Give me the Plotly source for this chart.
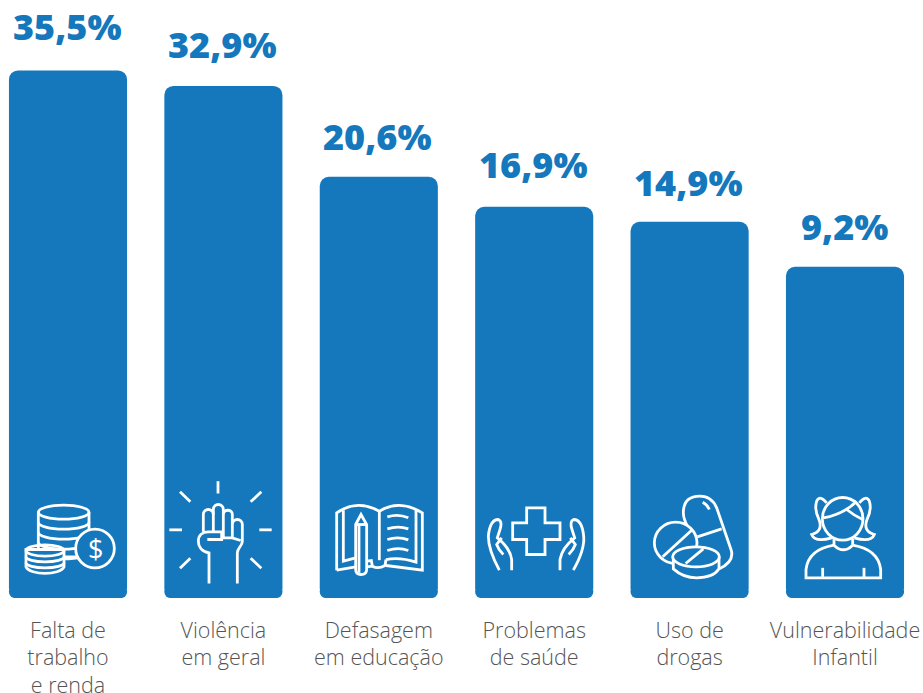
import re
import plotly.graph_objects as go

# ---- data ----
categories = ["Falta de<br>trabalho<br>e renda", "Violência<br>em geral", "Defasagem<br>em educação",
              "Problemas<br>de saúde", "Uso de<br>drogas", "Vulnerabilidade<br>Infantil"]
value_labels = ["35,5%", "32,9%", "20,6%", "16,9%", "14,9%", "9,2%"]
# drawn bar heights (the picture's bars are not proportional to the printed percentages)
bar_heights = [34.91, 33.87, 27.75, 25.73, 24.72, 21.69]
foot_depth = [0.6] * 6
foot_overlap = [0.3] * 6
label_offsets = [44, 41, 40, 42, 39, 40]

BLUE = "#1578BC"
UNIT = 14.87          # px per y unit
ZERO_PX = 589.6       # image row of y=0
BOTTOM_PX = 598.5
PITCH = 155.4
FIRST = 68.0
W, H = 923, 693
x_idx = list(range(6))


def tr(path, ox, oy, i):
    """Zoom-crop coordinates (3x, crop origin ox,oy) -> pixels relative to bar i's centre/zero."""
    nums = iter(re.findall(r"[A-Za-z]|-?\d+\.?\d*", path))
    out, is_x = [], True
    cx = FIRST + PITCH * i
    for t in nums:
        if t.isalpha():
            out.append(t)
            is_x = True
        else:
            v = float(t) / 3
            out.append(f"{v + ox - cx:.2f}" if is_x else f"{ZERO_PX - (v + oy):.2f}")
            is_x = not is_x
    res, k = "", 0
    for t in out:
        if t.isalpha():
            res += t
            k = 0
        else:
            res += ("," if k % 2 else (" " if k else "")) + t
            k += 1
    return res


def ell(cx, cy, rx, ry):
    k = 0.5523
    return (f"M{cx-rx},{cy} C{cx-rx},{cy-k*ry} {cx-k*rx},{cy-ry} {cx},{cy-ry} "
            f"C{cx+k*rx},{cy-ry} {cx+rx},{cy-k*ry} {cx+rx},{cy} "
            f"C{cx+rx},{cy+k*ry} {cx+k*rx},{cy+ry} {cx},{cy+ry} "
            f"C{cx-k*rx},{cy+ry} {cx-rx},{cy+k*ry} {cx-rx},{cy} Z")


def low(cx, cy, rx, ry):
    k = 0.5523
    return (f"M{cx-rx},{cy} C{cx-rx},{cy+k*ry} {cx-k*rx},{cy+ry} {cx},{cy+ry} "
            f"C{cx+k*rx},{cy+ry} {cx+rx},{cy+k*ry} {cx+rx},{cy}")


icons = {
    0: (0, 470, [
        ("M115,128 L115,262 L267,262 L267,128", True),
        (ell(191, 128, 76, 21), False),
        (low(191, 158, 76, 21), False),
        (low(191, 188, 76, 21), False),
        (low(191, 218, 76, 21), False),
        (low(191, 247, 76, 21), False),
        ("M78,240 L78,292 C90,318 180,318 192,292 L192,240 Z", True),
        (ell(135, 243, 57, 17), False),
        (low(135, 262, 57, 15), False),
        (low(135, 280, 57, 15), False),
        (ell(285, 237, 58, 58), True),
    ]),
    1: (0, 470, [
        ("M654,35 L654,72", False), ("M508,181 L546,181", False), ("M778,181 L815,181", False),
        ("M540,67 L571,97", False), ("M784,67 L752,97", False),
        ("M540,296 L571,266", False), ("M784,296 L752,266", False),
        ("M627,342 L627,250 C600,245 595,225 595,215 C595,195 610,187 625,187 L665,187 L665,210 L622,210", False),
        ("M610,187 L610,135 C610,115 640,115 640,135 L640,187", False),
        ("M640,135 L640,120 C640,100 670,100 670,120 L670,205", False),
        ("M670,135 C670,118 697,118 697,135 L697,205", False),
        ("M697,165 C697,145 727,145 727,165 L727,215 C727,230 712,235 712,250 L712,342", False),
        ("M665,205 L697,205 L722,213", False),
    ]),
    2: (310, 480, [
        ("M80,272 L80,100 Q140,58 208,95 Q270,58 337,100 L337,272 L228,258", False),
        ("M80,272 L137,262", False),
        ("M100,92 L100,245 L137,235", False),
        ("M318,90 L318,248 Q270,232 228,240", False),
        ("M208,95 L208,242", False),
        ("M170,245 L184,243 L187,260 Q205,270 225,258 L228,240", False),
        ("M170,262 L187,260", False),
        ("M137,135 L153,105 L170,135 L170,270 Q170,285 153,285 Q137,285 137,270 Z", False),
        ("M137,135 L170,135", False),
        ("M147,135 L147,280", False),
        ("M232,112 Q265,102 295,115", False), ("M232,148 Q265,138 295,148", False),
        ("M232,180 Q265,170 295,181", False), ("M232,213 Q265,202 295,213", False),
    ]),
    3: (310, 480, [
        ("M650,85 L705,85 L705,130 L750,130 L750,180 L705,180 L705,225 L650,225 L650,180 L608,180 L608,130 L650,130 Z", False),
        ("M568,272 Q535,210 535,170 Q540,120 565,120 Q578,125 570,150 L562,175 Q600,205 605,240 L605,272", False),
        ("M580,225 Q565,210 560,195 L575,175", False),
        ("M790,272 Q825,210 821,170 Q816,120 791,120 Q778,125 786,150 L794,175 Q756,205 750,240 L750,272", False),
        ("M776,225 Q791,210 796,195 L781,175", False),
    ]),
    4: (620, 480, [
        ("M205,145 Q190,120 190,100 Q190,50 240,50 Q275,50 290,85 L333,210 Q345,245 298,268", False),
        ("M232,172 L305,148", False),
        ("M248,68 Q262,75 268,90", False),
        (ell(167, 190, 64, 62), True),
        ("M128,232 L215,152", False),
        ("M160,232 L160,268 Q190,295 230,295 Q280,295 297,268 L297,232", True),
        (ell(228, 232, 70, 30), True),
        ("M197,252 L250,208", False),
    ]),
    5: (620, 480, [
        ("M620,70 Q600,45 590,65 Q582,90 597,120 Q610,155 575,165 Q585,190 635,175", False),
        ("M718,70 Q738,45 748,65 Q756,90 741,120 Q728,155 763,165 Q753,190 703,175", False),
        (ell(668, 118, 61, 64), True),
        ("M610,115 Q670,105 710,65", False),
        ("M680,90 Q705,110 728,120", False),
        ("M642,178 L642,197 Q670,225 698,197 L698,178", False),
        ("M642,197 Q565,210 558,270 L558,295 L782,295 L782,270 Q775,210 698,197", False),
        ("M608,265 L608,295", False), ("M732,265 L732,295", False),
    ]),
}

fig = go.Figure()
fig.add_bar(x=x_idx, y=bar_heights, marker=dict(color=BLUE, cornerradius=9, line_width=0), width=0.76)
fig.add_bar(x=x_idx, y=[-(d + o) for d, o in zip(foot_depth, foot_overlap)], base=foot_overlap,
            marker=dict(color=BLUE, cornerradius=8, line_width=0), width=0.76)

for i, (ox, oy, parts) in icons.items():
    for p, filled in parts:
        fig.add_shape(type="path", path=tr(p, ox, oy, i), layer="above",
                      xsizemode="pixel", ysizemode="pixel", xanchor=i, yanchor=0,
                      xref="x", yref="y",
                      line=dict(color="white", width=2.8),
                      fillcolor=BLUE if filled else "rgba(0,0,0,0)")

FONT = "Open Sans"
for i, (lab, h, off) in enumerate(zip(value_labels, bar_heights, label_offsets)):
    fig.add_annotation(x=i, y=h, yshift=off, xshift=-1, text=lab, showarrow=False, yanchor="middle",
                       font=dict(family=FONT, size=36, color=BLUE, weight=800))
fig.add_annotation(x=0, y=0, xshift=95 - 68, yshift=ZERO_PX - 549, text="$", showarrow=False,
                   font=dict(family=FONT, size=27, color="white", weight=400))

fig.update_layout(
    width=W, height=H, autosize=False, barmode="overlay", showlegend=False,
    paper_bgcolor="white", plot_bgcolor="white",
    margin=dict(l=0, r=0, t=0, b=H - BOTTOM_PX, pad=0, autoexpand=False),
    xaxis=dict(range=[-FIRST / PITCH, (W - FIRST) / PITCH], tickmode="array", tickvals=x_idx, ticktext=categories,
               tickangle=0, showgrid=False, zeroline=False, showline=False, ticks="", ticklabelstandoff=17,
               automargin=False,
               tickfont=dict(family=FONT, size=21.5, color="#555555", weight=300)),
    yaxis=dict(range=[-(BOTTOM_PX - ZERO_PX) / UNIT, ZERO_PX / UNIT], visible=False, automargin=False),
)
fig.write_html("out.html", config={"displayModeBar": False},
               post_script="document.body.style.margin='0';document.documentElement.style.overflow='hidden';")
